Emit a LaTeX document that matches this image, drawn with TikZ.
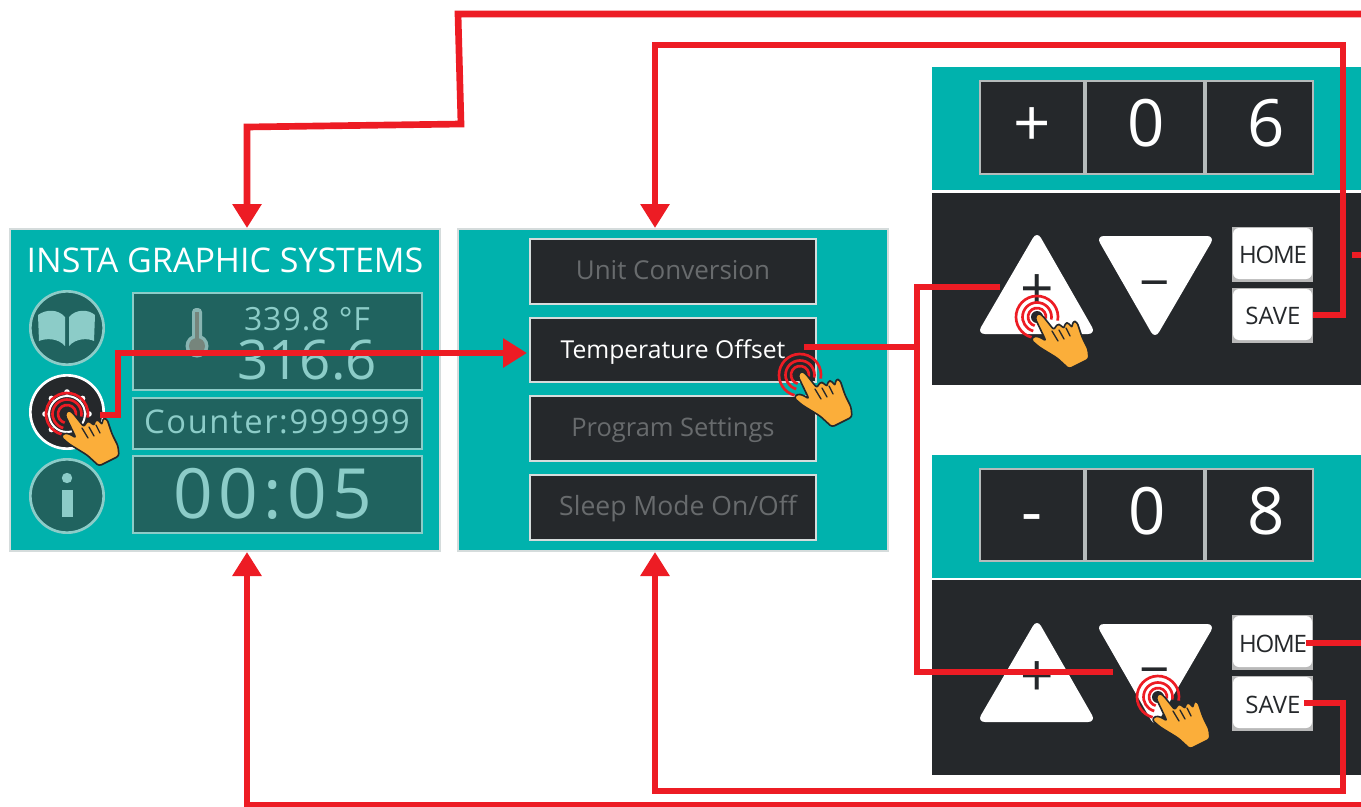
\documentclass[tikz,border=0pt]{standalone}
\usepackage{fontspec}
\setmainfont{Open Sans}
\newfontfamily\lcdfont[LetterSpace=5]{Open Sans}
\newfontfamily\smallfont[LetterSpace=3]{Open Sans}
\newfontfamily\bigfont[LetterSpace=8]{Open Sans}
\newfontfamily\tightfont[LetterSpace=-5]{Open Sans}
\usetikzlibrary{arrows.meta}
\definecolor{teal1}{HTML}{00B2AD}
\definecolor{dark1}{HTML}{25282B}
\definecolor{lcdbg}{HTML}{20635F}
\definecolor{lcdfg}{HTML}{8CCCC8}
\definecolor{red1}{HTML}{ED1C24}
\definecolor{hand1}{HTML}{FBAE3A}
\definecolor{edge1}{HTML}{D5DCDC}
\definecolor{dim1}{HTML}{686B6D}
\definecolor{thermo1}{HTML}{76857C}
\tikzset{
  panelbox/.style={fill=teal1,draw=edge1,line width=1.5pt},
  darkpane/.style={fill=dark1,draw=none},
  lcdbox/.style={fill=lcdbg,draw=lcdfg,line width=1.4pt},
  menubox/.style={fill=dark1,draw=edge1,line width=2pt},
  digitbox/.style={fill=dark1,draw=edge1!85!black,line width=2pt},
  softbtn/.style={fill=gray!55},
  softface/.style={fill=white,rounded corners=4.5pt},
  iconround/.style={fill=lcdbg,draw=lcdfg,line width=2pt},
  wire/.style={draw=red1,line width=5pt,line join=miter},
  wirearrow/.style={wire,-{Triangle[length=18pt,width=21pt]}},
  trianglebtn/.style={fill=white,rounded corners=6pt},
  label/.style={inner sep=0pt,outer sep=0pt,anchor=base},
}
\newcommand{\bx}[7]{\node[#6,inner sep=0pt,outer sep=0pt,minimum width={(#4-#2)*0.75pt},minimum height={(#5-#3)*0.75pt}] (#1) at ({(#2+#4)/2},{(#3+#5)/2}) {#7};}
\newcommand{\txt}[6]{\node[label,text=#5] (#1) at (#2,#3) {\fontsize{#4}{#4}\selectfont #6};}
\newcommand{\softface}[2]{\fill[softface] (#1,#2+1) rectangle (1312,#2+52);}
\newcommand{\handat}[2]{%
 \begin{scope}[shift={(#1,#2)}]
  \draw[red1,line width=2pt] (10:21) arc[start angle=10,end angle=-255,radius=21];
  \draw[red1,line width=2pt] (10:14.5) arc[start angle=10,end angle=-255,radius=14.5];
  \draw[red1,line width=2pt] (10:9) arc[start angle=10,end angle=-255,radius=9];
  \fill[dark1] (0,0) circle[radius=6];
  \draw[dark1,fill=hand1,line width=1.2pt,line join=round,rounded corners=2pt]
    (-2,1) -- (1,-4) -- (5,-2) -- (17,13) -- (20,7) -- (24,8) -- (27,12) -- (28,6) -- (32,6) -- (35,11) -- (36,4) -- (40,5) -- (45,20) -- (51,32) -- (52,42) -- (32,52) -- (20,41) -- (2,30) -- (-6,23) -- (-3,19) -- (3,20) -- (9,24) -- cycle;
  \draw[dark1,line width=1pt,line cap=round] (15,14) -- (21,24) (22,13) -- (27,22) (29,11) -- (33,19);
 \end{scope}}
\newcommand{\triup}[1]{\fill[trianglebtn] (1037,#1-5) -- (1096,#1+98) -- (977,#1+98) -- cycle;}
\newcommand{\tridn}[1]{\fill[trianglebtn] (1096,#1) -- (1215,#1) -- (1155,#1+103) -- cycle;}
\begin{document}
\begin{tikzpicture}[x=0.75pt,y=-0.75pt]
\useasboundingbox (0,0) rectangle (1361,807);
\fill[white] (0,0) rectangle (1361,807);
% left panel
\bx{panelA}{10}{229}{440}{551}{panelbox}{}
\txt{title}{225}{272}{25.5pt}{white}{INSTA GRAPHIC SYSTEMS}
\node[iconround,circle,inner sep=0pt,minimum size=55pt] (bookbtn) at (67,328) {};
\node[fill=dark1,draw=white,line width=2pt,circle,inner sep=0pt,minimum size=55pt] (gearbtn) at (67,412) {};
\node[iconround,circle,inner sep=0pt,minimum size=55pt] (infobtn) at (67,496) {};
% book
\fill[lcdfg] (38,315) .. controls (46,309) and (58,309) .. (65,317) -- (65,346) .. controls (58,338) and (46,338) .. (39,341) -- cycle;
\fill[lcdfg] (95,315) .. controls (88,309) and (76,309) .. (69,317) -- (69,346) .. controls (76,338) and (88,338) .. (94,341) -- cycle;
% gear
\draw[white,line width=1.5pt] (67,414) circle[radius=18];
\foreach \a in {0,45,...,315}{\fill[white] (67,414) ++(\a:22) circle[radius=2.8];}
% info
\fill[lcdfg] (67,478) circle[radius=5.2];
\fill[lcdfg] (62,490) rectangle (73,517);
% lcd boxes
\bx{lcdtemp}{133}{293}{422}{390}{lcdbox}{}
\bx{lcdcount}{133}{398}{422}{449}{lcdbox}{}
\bx{lcdtime}{133}{456}{422}{533}{lcdbox}{}
\fill[lcdfg!70!gray] (197,346) circle[radius=11.5];
\fill[lcdfg!70!gray,rounded corners=3pt] (192,308) rectangle (202,340);
\fill[thermo1] (197,346) circle[radius=8];
\fill[thermo1] (195,312) rectangle (199,345);
\txt{tempF}{307}{330}{24pt}{lcdfg}{\smallfont 339.8 °F}
\txt{tempC}{307}{379}{41pt}{lcdfg}{316.6}
\txt{counter}{277}{433}{24.5pt}{lcdfg}{\lcdfont Counter:999999}
\txt{clock}{273}{518}{52pt}{lcdfg}{\bigfont 00:05}
% middle panel
\bx{panelB}{458}{229}{888}{551}{panelbox}{}
\bx{mUnit}{530}{239}{816}{304}{menubox}{}
\bx{mTemp}{530}{318}{816}{382}{menubox}{}
\bx{mProg}{530}{396}{816}{461}{menubox}{}
\bx{mSleep}{530}{475}{816}{540}{menubox}{}
\txt{tUnit}{673}{279}{19.5pt}{dim1}{Unit Conversion}
\txt{tTemp}{673}{358}{18.5pt}{white}{Temperature Offset}
\txt{tProg}{673}{436}{19.1pt}{dim1}{Program Settings}
\txt{tSleep}{678}{515}{19.9pt}{dim1}{Sleep Mode On/Off}
% upper right
\bx{topA}{932}{67}{1361}{190}{fill=teal1}{}
\bx{padA}{932}{193}{1361}{385}{darkpane}{}
\bx{dA1}{980}{81}{1084}{174}{digitbox}{}
\bx{dA2}{1086}{81}{1204}{174}{digitbox}{}
\bx{dA3}{1206}{81}{1313}{174}{digitbox}{}
\txt{vA1}{1032}{146}{49pt}{white}{+}
\txt{vA2}{1146}{146}{49pt}{white}{0}
\txt{vA3}{1266}{146}{49pt}{white}{6}
\triup{236}
\tridn{236}
\txt{plusA}{1037}{309}{44pt}{dark1}{+}
\txt{minusA}{1155}{301}{40pt}{dark1}{−}
\bx{homeA}{1232}{227}{1313}{282}{softbtn}{}
\bx{saveA}{1232}{288}{1313}{343}{softbtn}{}
\softface{1233}{227}
\softface{1233}{288}
\txt{thomeA}{1273}{263}{18pt}{dark1}{\tightfont HOME}
\txt{tsaveA}{1273}{324}{18pt}{dark1}{SAVE}
% lower right
\bx{topB}{932}{455}{1361}{578}{fill=teal1}{}
\bx{padB}{932}{580}{1361}{775}{darkpane}{}
\bx{dB1}{980}{469}{1084}{561}{digitbox}{}
\bx{dB2}{1086}{469}{1204}{561}{digitbox}{}
\bx{dB3}{1206}{469}{1313}{561}{digitbox}{}
\txt{vB1}{1032}{534}{49pt}{white}{-}
\txt{vB2}{1147}{534}{49pt}{white}{0}
\txt{vB3}{1266}{534}{49pt}{white}{8}
\triup{624}
\tridn{624}
\txt{plusB}{1037}{696}{44pt}{dark1}{+}
\txt{minusB}{1155}{688}{40pt}{dark1}{−}
\bx{homeB}{1232}{615}{1313}{670}{softbtn}{}
\bx{saveB}{1232}{676}{1313}{731}{softbtn}{}
\softface{1233}{615}
\softface{1233}{676}
\txt{thomeB}{1273}{652}{18pt}{dark1}{\tightfont HOME}
\txt{tsaveB}{1273}{713}{18pt}{dark1}{SAVE}
% hands
\handat{67}{414}
\handat{800}{375}
\handat{1037}{317}
\handat{1158}{697}
% connector anchors
\coordinate (inA) at (247,228);
\coordinate (inAb) at (247,552);
\coordinate (inB) at (655,228);
\coordinate (inBb) at (655,552);
\coordinate (inTemp) at (527,353);
\coordinate (edgeTop) at (1361,14);
\coordinate (edgeBot) at (1361,805);
\coordinate (edgeHomeA) at (1361,255);
\coordinate (edgeHomeB) at (1361,643);
\coordinate (gearOut) at (100,415);
\coordinate (tempOut) at (804,347);
\coordinate (plusIn) at (1000,287);
\coordinate (minusIn) at (1113,672);
\coordinate (saveAout) at (1313,315);
\coordinate (saveBout) at (1304,703);
\coordinate (homeAout) at (1352,255);
\coordinate (homeBout) at (1306,643);
% connectors
\draw[wirearrow] (edgeTop) -- (458,14) -- (461,124) -- (247,127) -- (inA);
\draw[wirearrow] (saveAout) -- (1343,315) -- (1343,45) -- (655,45) -- (inB);
\draw[wirearrow] (gearOut) -- (118,415) -- (118,353) -- (inTemp);
\draw[wire] (tempOut) -- (917,347);
\draw[wire] (plusIn) -- (917,287) -- (917,672) -- (minusIn);
\draw[wire] (homeAout) -- (edgeHomeA);
\draw[wire] (homeBout) -- (edgeHomeB);
\draw[wirearrow] (saveBout) -- (1343,703) -- (1343,791) -- (655,791) -- (inBb);
\draw[wirearrow] (edgeBot) -- (247,805) -- (inAb);
\end{tikzpicture}
\end{document}
